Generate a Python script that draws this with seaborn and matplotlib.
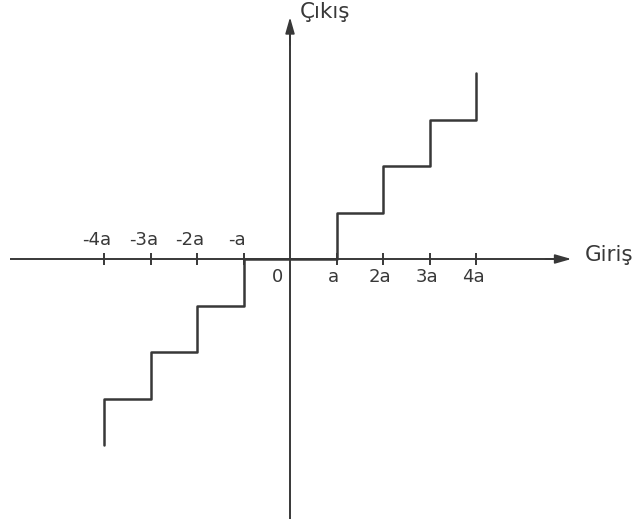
import matplotlib
matplotlib.use("Agg")
import matplotlib.pyplot as plt
import seaborn as sns

sns.set_theme(style="white")
plt.rcParams["font.family"] = ["DejaVu Sans"]

# Quantizer characteristic (input and output in units of a)
giris = [-4, -4, -3, -3, -2, -2, -1, -1, 0, 1, 1, 2, 2, 3, 3, 4, 4]
cikis = [-4, -3, -3, -2, -2, -1, -1, 0, 0, 0, 1, 1, 2, 2, 3, 3, 4]

tick_pos = [-4, -3, -2, -1, 1, 2, 3, 4]
neg_labels = ["-4a", "-3a", "-2a", "-a"]
pos_labels = ["a", "2a", "3a", "4a"]

ink = "#383838"

fig = plt.figure(figsize=(6.44, 5.25), dpi=100)
ax = fig.add_axes([0, 0, 1, 1])
ax.set_xlim(-6.237, 7.613)
ax.set_ylim(-5.72, 5.57)
ax.set_axis_off()

# coordinate axes with arrowheads
ax.plot([-6.02, 5.9], [0, 0], color=ink, lw=1.4, solid_capstyle="butt")
ax.plot([0, 0], [-5.6, 5.0], color=ink, lw=1.4, solid_capstyle="butt")
head = dict(arrowstyle="-|>,head_length=0.7,head_width=0.2", color=ink,
            lw=1.2, mutation_scale=14, shrinkA=0, shrinkB=0)
ax.annotate("", xy=(6.05, 0), xytext=(5.5, 0), arrowprops=head)
ax.annotate("", xy=(0, 5.2), xytext=(0, 4.6), arrowprops=head)

# tick marks on the input axis
ax.vlines(tick_pos, -0.13, 0.13, color=ink, lw=1.4)

# staircase
sns.lineplot(x=giris, y=cikis, sort=False, estimator=None, color=ink,
             lw=1.8, ax=ax)

# tick labels
for p, lab in zip(tick_pos[:4], neg_labels):
    ax.annotate(lab, xy=(p, 0.30), xytext=(-7, 0), textcoords="offset pixels",
                ha="center", va="baseline", fontsize=13, color=ink)
for p, lab in zip(tick_pos[4:], pos_labels):
    ax.annotate(lab, xy=(p, -0.49), xytext=(-3, 0), textcoords="offset pixels",
                ha="center", va="baseline", fontsize=13, color=ink)
ax.text(-0.26, -0.49, "0", ha="center", va="baseline", fontsize=13, color=ink)

# axis titles
ax.text(6.34, -0.05, "Giriş", ha="left", va="baseline", fontsize=15.5, color=ink)
ax.text(0.2, 5.18, "Çıkış", ha="left", va="baseline", fontsize=15.5, color=ink)

fig.savefig("out.png", dpi=100, facecolor="white")
